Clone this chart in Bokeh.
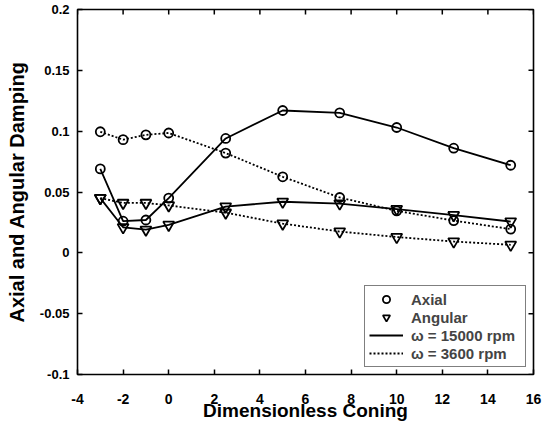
import math
from bokeh.plotting import figure
from bokeh.models import Legend, LegendItem, FixedTicker, ColumnDataSource, Range1d
from bokeh.embed import file_html
from bokeh.resources import INLINE

coning = [-3, -2, -1, 0, 2.5, 5, 7.5, 10, 12.5, 15]
axial_15000 = [0.069, 0.026, 0.027, 0.045, 0.094, 0.117, 0.115, 0.103, 0.086, 0.072]
axial_3600 = [0.0995, 0.093, 0.097, 0.0985, 0.082, 0.0625, 0.0455, 0.0345, 0.0265, 0.0195]
angular_15000 = [0.045, 0.021, 0.019, 0.023, 0.038, 0.042, 0.0405, 0.036, 0.031, 0.0257]
angular_3600 = [0.045, 0.041, 0.041, 0.039, 0.033, 0.024, 0.0175, 0.013, 0.0093, 0.0066]

x_ticks = [-4, -2, 0, 2, 4, 6, 8, 10, 12, 14, 16]
x_tick_labels = ["-4", "-2", "0", "2", "4", "6", "8", "10", "12", "14", "16"]
y_ticks = [-0.1, -0.05, 0, 0.05, 0.1, 0.15, 0.2]
y_tick_labels = ["-0.1", "-0.05", "0", "0.05", "0.1", "0.15", "0.2"]

FONT = "Liberation Sans"
TICK = 5

p = figure(width=550, height=432, output_backend="svg", toolbar_location=None,
           x_range=Range1d(x_ticks[0], x_ticks[-1]), y_range=Range1d(y_ticks[0], y_ticks[-1]),
           min_border_left=77, min_border_right=17, min_border_top=9, min_border_bottom=58,
           x_axis_label="Dimensionless Coning", y_axis_label="Axial and Angular Damping")
p.background_fill_color = "white"
p.border_fill_color = "white"
p.outline_line_color = "black"
p.outline_line_width = 1.6
p.grid.visible = False

for ax in (p.xaxis[0], p.yaxis[0]):
    ax.axis_line_color = None
    ax.major_tick_in = TICK
    ax.major_tick_out = 0
    ax.minor_tick_line_color = None
    ax.major_tick_line_color = "black"
    ax.major_tick_line_width = 1.5
    ax.major_label_text_font = FONT
    ax.major_label_text_font_style = "bold"
    ax.major_label_text_color = "black"
    ax.axis_label_text_font = FONT
    ax.axis_label_text_font_style = "bold"
    ax.axis_label_text_color = "black"

p.xaxis[0].ticker = FixedTicker(ticks=x_ticks)
p.yaxis[0].ticker = FixedTicker(ticks=y_ticks)
p.xaxis[0].major_label_overrides = {t: l for t, l in zip(x_ticks, x_tick_labels)}
p.yaxis[0].major_label_overrides = {t: l for t, l in zip(y_ticks, y_tick_labels)}
p.xaxis[0].major_label_text_font_size = "14px"
p.yaxis[0].major_label_text_font_size = "13px"
p.xaxis[0].axis_label_text_font_size = "19px"
p.yaxis[0].axis_label_text_font_size = "20px"
p.xaxis[0].major_label_standoff = 19
p.xaxis[0].axis_label_standoff = -7
p.yaxis[0].major_label_standoff = 8
p.yaxis[0].axis_label_standoff = 9

# mirrored inward ticks on top and right edges of the box
tick_src_top = ColumnDataSource(dict(x=x_ticks, y=[y_ticks[-1]] * len(x_ticks)))
tick_src_right = ColumnDataSource(dict(x=[x_ticks[-1]] * len(y_ticks), y=y_ticks))
p.scatter("x", "y", source=tick_src_top, marker="dash", size=2 * TICK, angle=math.pi / 2,
          line_color="black", line_width=1.5)
p.scatter("x", "y", source=tick_src_right, marker="dash", size=2 * TICK,
          line_color="black", line_width=1.5)

src = ColumnDataSource(dict(x=coning, a15=axial_15000, a36=axial_3600,
                            g15=angular_15000, g36=angular_3600))

LW = 1.8
DOT = "2 2"
l_a15 = p.line("x", "a15", source=src, line_color="black", line_width=LW)
p.line("x", "g15", source=src, line_color="black", line_width=LW)
l_a36 = p.line("x", "a36", source=src, line_color="black", line_width=LW, line_dash=DOT)
p.line("x", "g36", source=src, line_color="black", line_width=LW, line_dash=DOT)
m_ax = None
for col in ("a15", "a36"):
    m_ax = p.scatter("x", col, source=src, marker="circle", size=9, fill_color=None,
                     line_color="black", line_width=1.8)
m_an = None
for col in ("g15", "g36"):
    m_an = p.scatter("x", col, source=src, marker="inverted_triangle", size=11, fill_color=None,
                     line_color="black", line_width=1.8)

legend = Legend(items=[LegendItem(label="Axial", renderers=[m_ax]),
                       LegendItem(label="Angular", renderers=[m_an]),
                       LegendItem(label="ω = 15000 rpm", renderers=[l_a15]),
                       LegendItem(label="ω = 3600 rpm", renderers=[l_a36])],
                location="bottom_right")
legend.margin = 7
legend.padding = 4
legend.spacing = 0
legend.label_height = 18
legend.glyph_height = 18
legend.glyph_width = 34
legend.label_width = 110
legend.label_standoff = 8
legend.label_text_font = FONT
legend.label_text_font_style = "bold"
legend.label_text_font_size = "15px"
legend.border_line_color = "black"
legend.border_line_width = 1.6
legend.background_fill_color = "white"
legend.background_fill_alpha = 1
p.add_layout(legend, "center")

open("out.html", "w").write(file_html(p, INLINE))
